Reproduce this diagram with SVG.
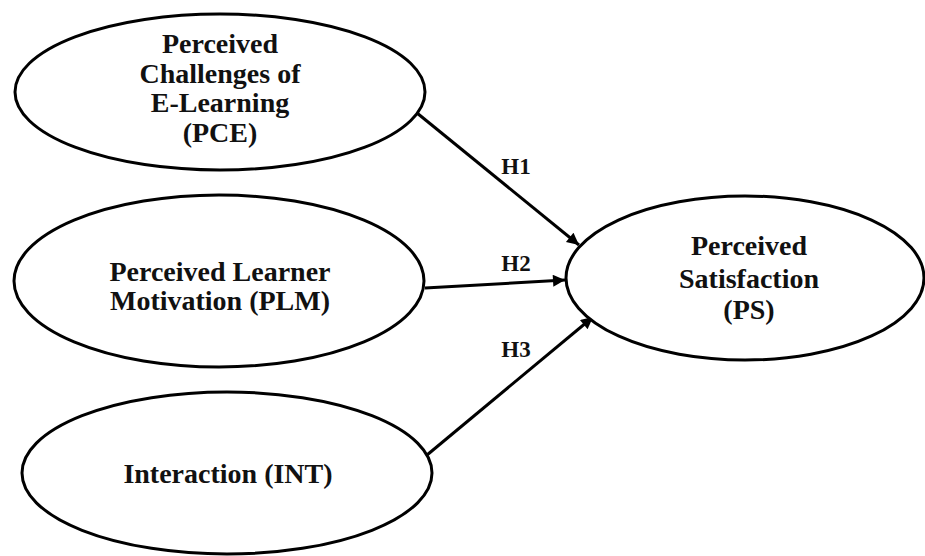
<svg xmlns="http://www.w3.org/2000/svg" width="925" height="556" viewBox="0 0 925 556">
<style>
.node ellipse{fill:#fff;stroke:#000;stroke-width:3}
.node text{font-family:"Liberation Serif","Times New Roman",serif;font-weight:bold;font-size:28px;fill:#111;text-anchor:middle}
.conn line{stroke:#000;stroke-width:3}
.lbl{font-family:"Liberation Serif","Times New Roman",serif;font-weight:bold;font-size:23px;fill:#111;text-anchor:middle}
</style>
<defs>
<marker id="arr" viewBox="0 0 10 10" refX="10" refY="5" markerWidth="5" markerHeight="4" markerUnits="strokeWidth" orient="auto">
<path d="M0,0 L10,5 L0,10 z" fill="#000"/>
</marker>
</defs>
<rect width="925" height="556" fill="#fff"/>
<g id="connectors" class="conn">
<line x1="417" y1="113" x2="579" y2="245" marker-end="url(#arr)"/>
<line x1="425" y1="288" x2="565" y2="280" marker-end="url(#arr)"/>
<line x1="427" y1="455" x2="593" y2="317" marker-end="url(#arr)"/>
<text class="lbl" x="516" y="174">H1</text>
<text class="lbl" x="516" y="271">H2</text>
<text class="lbl" x="516" y="357">H3</text>
</g>
<g id="PCE" class="node">
<ellipse cx="220" cy="92" rx="205" ry="78"/>
<text x="220" y="53">Perceived</text>
<text x="220" y="83">Challenges of</text>
<text x="220" y="112">E-Learning</text>
<text x="220" y="142">(PCE)</text>
</g>
<g id="PLM" class="node">
<ellipse cx="219" cy="281" rx="205" ry="86"/>
<text x="220" y="281">Perceived Learner</text>
<text x="220" y="310">Motivation (PLM)</text>
</g>
<g id="INT" class="node">
<ellipse cx="227" cy="473" rx="205" ry="81"/>
<text x="228" y="483">Interaction (INT)</text>
</g>
<g id="PS" class="node">
<ellipse cx="745" cy="278" rx="179" ry="82"/>
<text x="749" y="255">Perceived</text>
<text x="749" y="288">Satisfaction</text>
<text x="749" y="319">(PS)</text>
</g>
</svg>
